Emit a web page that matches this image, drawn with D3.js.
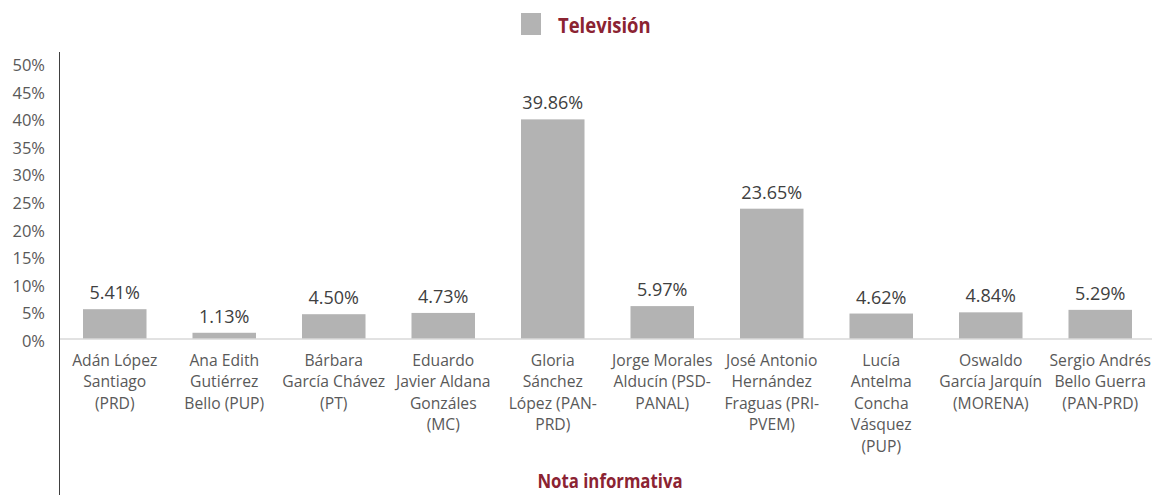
<!DOCTYPE html>
<html>
<head>
<meta charset="utf-8">
<script src="https://cdn.jsdelivr.net/npm/d3@7"></script>
<style>
  body { margin: 0; background: #fff; }
  svg text { font-family: "Open Sans", "Noto Sans", sans-serif; }
</style>
</head>
<body>
<div id="chart"></div>
<script>
// data
var candidates = [
  ["Adán López", "Santiago", "(PRD)"],
  ["Ana Edith", "Gutiérrez", "Bello (PUP)"],
  ["Bárbara", "García Chávez", "(PT)"],
  ["Eduardo", "Javier Aldana", "Gonzáles", "(MC)"],
  ["Gloria", "Sánchez", "López (PAN-", "PRD)"],
  ["Jorge Morales", "Alducín (PSD-", "PANAL)"],
  ["José Antonio", "Hernández", "Fraguas (PRI-", "PVEM)"],
  ["Lucía", "Antelma", "Concha", "Vásquez", "(PUP)"],
  ["Oswaldo", "García Jarquín", "(MORENA)"],
  ["Sergio Andrés", "Bello Guerra", "(PAN-PRD)"]
];
var television = [5.41, 1.13, 4.50, 4.73, 39.86, 5.97, 23.65, 4.62, 4.84, 5.29];
var yTicks = [0, 5, 10, 15, 20, 25, 30, 35, 40, 45, 50];
var seriesName = "Televisión";
var axisTitle = "Nota informativa";

var W = 1152, H = 495;
var margin = {top: 63.5, right: -3, bottom: 156, left: 60};
var width = W - margin.left - margin.right,
    height = H - margin.top - margin.bottom;

var svg = d3.select("#chart").append("svg")
    .attr("width", W)
    .attr("height", H);

var g = svg.append("g")
    .attr("transform", "translate(" + margin.left + "," + margin.top + ")");

var idx = d3.range(television.length);

var x = d3.scaleBand()
    .domain(idx)
    .range([0, width])
    .paddingInner(0.42)
    .paddingOuter(0.21);

var y = d3.scaleLinear()
    .domain([0, 50])
    .range([height, 0]);

// y tick labels
g.selectAll(".ytick")
  .data(yTicks)
  .enter().append("text")
    .attr("x", -15)
    .attr("y", function(d) { return y(d) + 2; })
    .attr("dy", "0.35em")
    .attr("text-anchor", "end")
    .attr("font-size", "16.5px")
    .attr("fill", "#595959")
    .text(function(d) { return d + "%"; });

// bars
g.selectAll(".bar")
  .data(television)
  .enter().append("rect")
    .attr("x", function(d, i) { return x(i); })
    .attr("y", function(d) { return y(d); })
    .attr("width", x.bandwidth())
    .attr("height", function(d) { return height - y(d); })
    .attr("fill", "#b3b3b3");

// zero line
g.append("line")
  .attr("x1", 0).attr("x2", width + 10)
  .attr("y1", y(0)).attr("y2", y(0))
  .attr("stroke", "#d9d9d9")
  .attr("stroke-width", 1.5);

// y axis line
svg.append("line")
  .attr("x1", 59.5).attr("x2", 59.5)
  .attr("y1", 52).attr("y2", H)
  .attr("stroke", "#404040")
  .attr("stroke-width", 1);

// value labels
g.selectAll(".val")
  .data(television)
  .enter().append("text")
    .attr("x", function(d, i) { return x(i) + x.bandwidth() / 2; })
    .attr("y", function(d) { return y(d) - 10; })
    .attr("text-anchor", "middle")
    .attr("font-size", "18px")
    .attr("fill", "#404040")
    .text(function(d) { return d.toFixed(2) + "%"; });

// category labels
var cat = g.selectAll(".cat")
  .data(candidates)
  .enter().append("text")
    .attr("text-anchor", "middle")
    .attr("font-size", "16px")
    .attr("fill", "#595959")
    .attr("transform", function(d, i) {
      return "translate(" + (x(i) + x.bandwidth() / 2) + "," + (height + 27) + ") scale(0.98,1)";
    });
cat.selectAll("tspan")
  .data(function(d) { return d; })
  .enter().append("tspan")
    .attr("x", 0)
    .attr("y", function(d, j) { return j * 21.5; })
    .text(function(d) { return d; });

// legend
svg.append("rect")
  .attr("x", 521).attr("y", 13)
  .attr("width", 20).attr("height", 22)
  .attr("fill", "#b3b3b3");
svg.append("text")
  .attr("transform", "translate(558,33) scale(0.84,1)")
  .attr("font-size", "22px")
  .attr("font-weight", "bold")
  .attr("fill", "#8b2332")
  .text(seriesName);

// x axis title
svg.append("text")
  .attr("transform", "translate(610,488) scale(0.84,1)")
  .attr("text-anchor", "middle")
  .attr("font-size", "20px")
  .attr("font-weight", "bold")
  .attr("fill", "#8b2332")
  .text(axisTitle);
</script>
</body>
</html>
